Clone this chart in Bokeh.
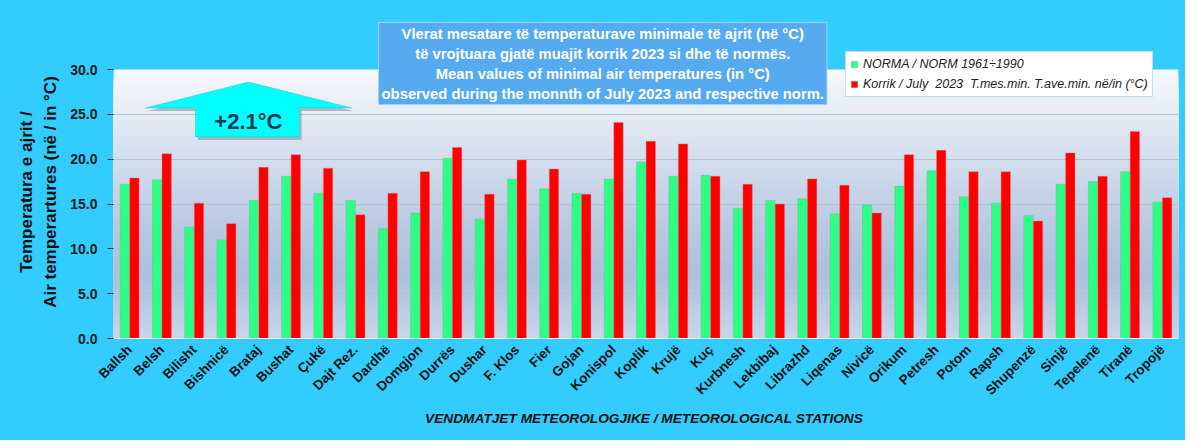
import numpy as np
from bokeh.plotting import figure
from bokeh.models import (ColumnDataSource, FactorRange, Range1d, Label, PolyAnnotation,
                          BoxAnnotation, Legend, LegendItem, FixedTicker,
                          PrintfTickFormatter)
from bokeh.transform import dodge
from bokeh.embed import file_html
from bokeh.resources import INLINE

# ---------------- data ----------------
stations = ["Ballsh", "Belsh", "Bilisht", "Bishnicë", "Brataj", "Bushat", "Çukë",
            "Dajt Rez.", "Dardhë", "Domgjon", "Durrës", "Dushar", "F. Klos", "Fier",
            "Gojan", "Konispol", "Koplik", "Krujë", "Kuç", "Kurbnesh", "Lekbibaj",
            "Librazhd", "Liqenas", "Nivicë", "Orikum", "Petresh", "Potom", "Rapsh",
            "Shupenzë", "Sinjë", "Tepelenë", "Tiranë", "Tropojë"]
norm_1961_1990 = [17.2, 17.7, 12.4, 11.0, 15.4, 18.1, 16.2, 15.4, 12.3, 14.0, 20.1,
                  13.3, 17.8, 16.7, 16.2, 17.8, 19.7, 18.1, 18.2, 14.5, 15.4, 15.6,
                  13.9, 14.9, 17.0, 18.7, 15.8, 15.1, 13.7, 17.2, 17.5, 18.6, 15.2]
july_2023 = [17.9, 20.6, 15.1, 12.8, 19.1, 20.5, 19.0, 13.8, 16.2, 18.6, 21.3,
             16.1, 19.9, 18.9, 16.1, 24.1, 22.0, 21.7, 18.1, 17.2, 15.0, 17.8,
             17.1, 14.0, 20.5, 21.0, 18.6, 18.6, 13.1, 20.7, 18.1, 23.1, 15.7]
y_ticks = [0, 5, 10, 15, 20, 25, 30]
anomaly_text = "+2.1°C"
series_labels = ["NORMA / NORM 1961÷1990",
                 "Korrik / July  2023  T.mes.min. T.ave.min. në/in (°C)"]
title_text = ("Vlerat mesatare të temperaturave minimale të ajrit (në °C)\n"
              "të vrojtuara gjatë muajit korrik 2023 si dhe të normës.\n"
              "Mean values of minimal air temperatures (in °C)\n"
              "observed during the monnth of July 2023 and respective norm.")
NB = "\u00a0" * 7
y_label = "Temperatura e ajrit /" + NB + "\nAir temperartures (në / in °C)" + NB
x_label = "VENDMATJET  METEOROLOGJIKE / METEOROLOGICAL STATIONS"

src = ColumnDataSource(dict(station=stations, norm=norm_1961_1990, july=july_2023))

FONT = "Liberation Sans"
CYAN = "#33CCFF"
Y_TOP = 30
Y_VIEW_TOP = 36.364   # frame extends above the chart area so the boxes are not clipped

p = figure(width=1185, height=440, x_range=FactorRange(factors=stations, range_padding=0),
           y_range=Range1d(0, Y_VIEW_TOP), output_backend="svg", toolbar_location=None,
           min_border_left=113, min_border_right=7, min_border_top=12, min_border_bottom=102)
p.border_fill_color = None
p.background_fill_color = None
p.styles = {"background-color": CYAN}
p.outline_line_color = None

# vertical gradient of the plot area (style only): overlapping boxes, top colour first
stops = [(0, (200, 214, 234)), (7, (172, 192, 220)), (12, (184, 200, 225)),
         (22, (218, 227, 240)), (30, (247, 249, 252))]
sv = [s[0] for s in stops]
step = 0.5
for v in np.arange(Y_TOP - step, -step / 2, -step):
    mid = v + step / 2
    rgb = [int(round(np.interp(mid, sv, [s[1][k] for s in stops]))) for k in range(3)]
    p.add_layout(BoxAnnotation(bottom=0, top=v + step, fill_color="#%02x%02x%02x" % tuple(rgb),
                               fill_alpha=1, line_color=None, level="image"))

# bars
r1 = p.vbar(x=dodge("station", -0.148, range=p.x_range), top="norm", width=0.29, source=src,
            fill_color="#2BFF84", line_color="#7FA8A0", line_width=0.4)
r2 = p.vbar(x=dodge("station", 0.148, range=p.x_range), top="july", width=0.29, source=src,
            fill_color="#FF0000", line_color="#C08080", line_width=0.4)

# grid
p.xgrid.grid_line_color = None
p.ygrid.grid_line_color = "#B4C0D4"
p.ygrid.grid_line_width = 1
p.ygrid.ticker = FixedTicker(ticks=y_ticks[:-1])

# y axis
p.yaxis.ticker = FixedTicker(ticks=y_ticks)
p.yaxis.formatter = PrintfTickFormatter(format="%.1f")
p.yaxis.axis_line_color = None
p.yaxis.major_tick_line_color = "#333333"
p.yaxis.major_tick_out = 6
p.yaxis.major_tick_in = 0
p.yaxis.minor_tick_line_color = None
p.yaxis.major_label_standoff = 10
p.yaxis.major_label_text_font = FONT
p.yaxis.major_label_text_font_style = "bold"
p.yaxis.major_label_text_font_size = "14px"
p.yaxis.major_label_text_color = "#1a1a1a"
p.yaxis.axis_label = y_label
p.yaxis.axis_label_text_font = FONT
p.yaxis.axis_label_text_font_style = "bold"
p.yaxis.axis_label_text_font_size = "17px"
p.yaxis.axis_label_text_color = "#111111"
p.yaxis.axis_label_text_line_height = 1.3
p.yaxis.axis_label_standoff = 7

# x axis
p.xaxis.axis_line_color = "#E8F4FF"
p.xaxis.major_tick_line_color = None
p.xaxis.major_label_orientation = np.pi / 4
p.xaxis.major_label_standoff = 3
p.xaxis.major_label_text_font = FONT
p.xaxis.major_label_text_font_style = "bold"
p.xaxis.major_label_text_font_size = "13.5px"
p.xaxis.major_label_text_color = "#111111"
p.xaxis.axis_label = x_label
p.xaxis.axis_label_text_font = FONT
p.xaxis.axis_label_text_font_style = "bold italic"
p.xaxis.axis_label_text_font_size = "13.7px"
p.xaxis.axis_label_text_color = "#111111"
p.xaxis.axis_label_standoff = 5

# anomaly arrow (decoration)
ax = [0.99, 4.18, 7.37, 5.76, 5.76, 2.54, 2.54]
ay = [25.72, 28.62, 25.72, 25.72, 22.49, 22.49, 25.72]
p.add_layout(PolyAnnotation(xs=[x + 0.07 for x in ax], ys=[y - 0.35 for y in ay],
                            fill_color="#5a7f8f", fill_alpha=0.45, line_color=None))
p.add_layout(PolyAnnotation(xs=ax, ys=ay, fill_color="#00FFFF", fill_alpha=1,
                            line_color="#3C9C9C", line_width=1))
p.add_layout(Label(x=4.18, y=24.25, text=anomaly_text, text_align="center",
                   text_baseline="middle", text_font=FONT, text_font_style="bold",
                   text_font_size="22px", text_color="#1F3552"))

# title box
p.add_layout(Label(x=15.16, y=30.67, text=title_text, text_align="center",
                   text_baseline="middle", text_font=FONT, text_font_style="bold",
                   text_font_size="14.8px", text_color="white", text_line_height=1.25,
                   background_fill_color="#56AAF0", background_fill_alpha=1,
                   border_line_color="#9FD0F5", border_line_width=1, padding=3))

# legend
legend = Legend(items=[LegendItem(label=series_labels[0], renderers=[r1]),
                       LegendItem(label=series_labels[1], renderers=[r2])],
                location=(732, 241.4), orientation="vertical")
legend.label_text_font = FONT
legend.label_text_font_style = "italic"
legend.label_text_font_size = "12.5px"
legend.label_text_color = "#222222"
legend.label_height = 16
legend.glyph_width = 8
legend.glyph_height = 8
legend.label_standoff = 5
legend.spacing = 4
legend.padding = 4
legend.margin = 0
legend.border_line_color = "#80C0D0"
legend.background_fill_color = "white"
legend.background_fill_alpha = 1
p.add_layout(legend)

open("out.html", "w").write(file_html(p, INLINE))
